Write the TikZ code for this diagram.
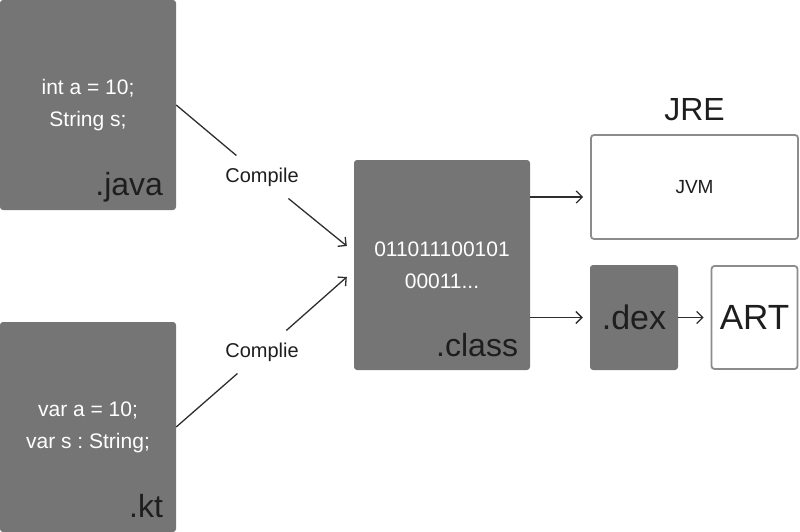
\documentclass[tikz,border=0pt]{standalone}
\usepackage{fontspec}
\setmainfont{Liberation Sans}
\usetikzlibrary{positioning,arrows.meta}
\definecolor{boxgray}{HTML}{757575}
\definecolor{edgegray}{HTML}{8C8C8C}
\definecolor{inkdark}{HTML}{1E1E1E}
\definecolor{linedark}{HTML}{2E2E2E}
\frenchspacing

\begin{document}
\begin{tikzpicture}[x=1pt,y=-1pt,
    srcbox/.style={rectangle,rounded corners=3pt,fill=boxgray,text=white,
        align=center,inner sep=0pt,font=\fontsize{21}{32}\selectfont},
    extlabel/.style={anchor=base east,inner sep=0pt,text=inkdark,
        font=\fontsize{32}{32}\selectfont},
    runbox/.style={rectangle,rounded corners=3pt,draw=edgegray,line width=1.8pt,
        fill=white,text=inkdark,inner sep=0pt},
    steplabel/.style={inner sep=12pt,text=inkdark,font=\fontsize{20}{20}\selectfont},
    link/.style={draw=linedark,line width=1.3pt},
    >={Straight Barb[length=6pt,width=12pt]}]
    \useasboundingbox (0,0) rectangle (800,532);
    % Source files
    \node[srcbox,minimum width=176pt,minimum height=210pt] (java) at (88,105)
        {int a = 10;\\String s;};
    \node[extlabel] (javaext) at ([shift={(-13pt,15pt)}]java.south east) {.java};
    \node[srcbox,minimum width=176pt,minimum height=210pt] (kt) at (88,427)
        {var a = 10;\\var s : String;};
    \node[extlabel] (ktext) at ([shift={(-13pt,15pt)}]kt.south east) {.kt};
    % Byte code
    \node[srcbox,minimum width=176pt,minimum height=210pt] (class) at (442,265)
        {011011100101\\00011...};
    \node[extlabel] (classext) at ([shift={(-12pt,14pt)}]class.south east) {.class};
    % Runtimes
    \node[runbox,minimum width=207pt,minimum height=104pt,
        font=\fontsize{19}{19}\selectfont] (jvm) at (694.5,187) {JVM};
    \node[above=13pt of jvm,inner sep=0pt,text=inkdark,
        font=\fontsize{32}{32}\selectfont] (jre) {JRE};
    \node[srcbox,minimum width=88pt,minimum height=105pt,text=inkdark,
        font=\fontsize{34}{34}\selectfont] (dex) at (634,317.5) {.dex};
    \node[runbox,minimum width=86pt,minimum height=103pt,
        font=\fontsize{35}{35}\selectfont] (art) at (754.5,317.5) {ART};
    % Compile steps
    \node[steplabel] (cmp1) at (262,177) {Compile};
    \node[steplabel] (cmp2) at (262,352) {Complie};
    \draw[link] (java.east) -- (cmp1);
    \draw[link,->] (cmp1) -- ([shift={(-7pt,19pt)}]class.west);
    \draw[link] (kt.east) -- (cmp2);
    \draw[link,->] (cmp2) -- ([shift={(-7pt,-12pt)}]class.west);
    % Into the runtimes
    \draw[link,->] ([yshift=68pt]class.east) -- ([shift={(-7pt,-10pt)}]jvm.west);
    \draw[link,->] (class.east |- dex.west) -- ([xshift=-7pt]dex.west);
    \draw[link,->] (dex) -- ([xshift=-7pt]art.west);
\end{tikzpicture}
\end{document}
